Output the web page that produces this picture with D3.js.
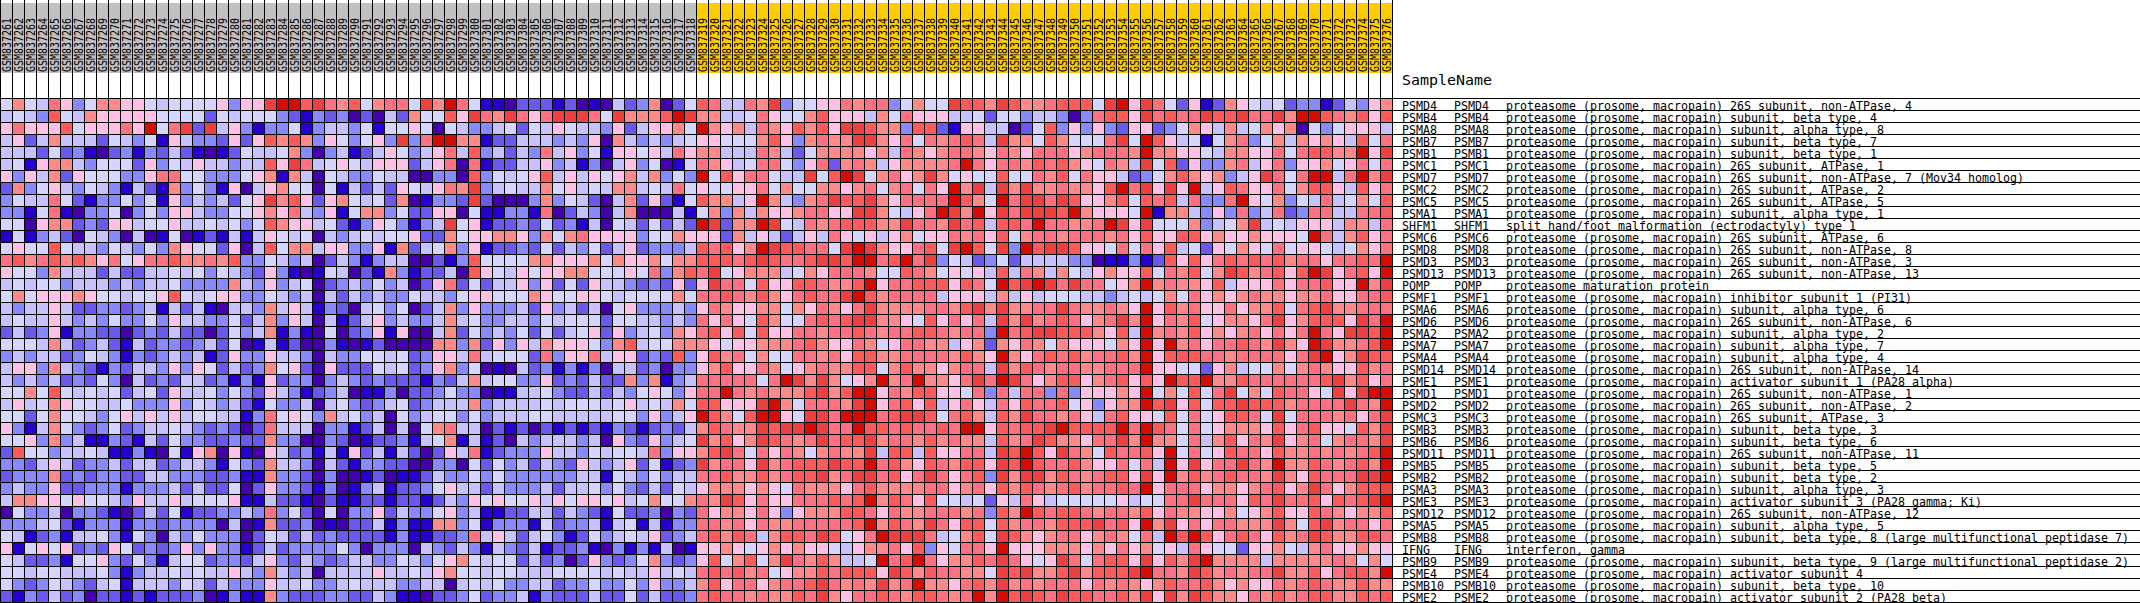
<!DOCTYPE html>
<html>
<head>
<meta charset="utf-8">
<script src="https://cdn.jsdelivr.net/npm/d3@7/dist/d3.min.js"></script>
<style>html,body{margin:0;padding:0;background:#fff}svg{display:block}</style>
</head>
<body>
<svg id="chart" width="2140" height="603"></svg>
<script>
const samples = ["GSM837261","GSM837262","GSM837263","GSM837264","GSM837265","GSM837266","GSM837267","GSM837268","GSM837269","GSM837270","GSM837271","GSM837272","GSM837273","GSM837274","GSM837275","GSM837276","GSM837277","GSM837278","GSM837279","GSM837280","GSM837281","GSM837282","GSM837283","GSM837284","GSM837285","GSM837286","GSM837287","GSM837288","GSM837289","GSM837290","GSM837291","GSM837292","GSM837293","GSM837294","GSM837295","GSM837296","GSM837297","GSM837298","GSM837299","GSM837300","GSM837301","GSM837302","GSM837303","GSM837304","GSM837305","GSM837306","GSM837307","GSM837308","GSM837309","GSM837310","GSM837311","GSM837312","GSM837313","GSM837314","GSM837315","GSM837316","GSM837317","GSM837318","GSM837319","GSM837320","GSM837321","GSM837322","GSM837323","GSM837324","GSM837325","GSM837326","GSM837327","GSM837328","GSM837329","GSM837330","GSM837331","GSM837332","GSM837333","GSM837334","GSM837335","GSM837336","GSM837337","GSM837338","GSM837339","GSM837340","GSM837341","GSM837342","GSM837343","GSM837344","GSM837345","GSM837346","GSM837347","GSM837348","GSM837349","GSM837350","GSM837351","GSM837352","GSM837353","GSM837354","GSM837355","GSM837356","GSM837357","GSM837358","GSM837359","GSM837360","GSM837361","GSM837362","GSM837363","GSM837364","GSM837365","GSM837366","GSM837367","GSM837368","GSM837369","GSM837370","GSM837371","GSM837372","GSM837373","GSM837374","GSM837375","GSM837376"];
const firstGoldSample = "GSM837319";
const genes = ["PSMD4","PSMB4","PSMA8","PSMB7","PSMB1","PSMC1","PSMD7","PSMC2","PSMC5","PSMA1","SHFM1","PSMC6","PSMD8","PSMD3","PSMD13","POMP","PSMF1","PSMA6","PSMD6","PSMA2","PSMA7","PSMA4","PSMD14","PSME1","PSMD1","PSMD2","PSMC3","PSMB3","PSMB6","PSMD11","PSMB5","PSMB2","PSMA3","PSME3","PSMD12","PSMA5","PSMB8","IFNG","PSMB9","PSME4","PSMB10","PSME2"];
const P = "proteasome (prosome, macropain) ";
const descriptions = [P+"26S subunit, non-ATPase, 4",P+"subunit, beta type, 4",P+"subunit, alpha type, 8",P+"subunit, beta type, 7",P+"subunit, beta type, 1",P+"26S subunit, ATPase, 1",P+"26S subunit, non-ATPase, 7 (Mov34 homolog)",P+"26S subunit, ATPase, 2",P+"26S subunit, ATPase, 5",P+"subunit, alpha type, 1","split hand/foot malformation (ectrodactyly) type 1",P+"26S subunit, ATPase, 6",P+"26S subunit, non-ATPase, 8",P+"26S subunit, non-ATPase, 3",P+"26S subunit, non-ATPase, 13","proteasome maturation protein",P+"inhibitor subunit 1 (PI31)",P+"subunit, alpha type, 6",P+"26S subunit, non-ATPase, 6",P+"subunit, alpha type, 2",P+"subunit, alpha type, 7",P+"subunit, alpha type, 4",P+"26S subunit, non-ATPase, 14",P+"activator subunit 1 (PA28 alpha)",P+"26S subunit, non-ATPase, 1",P+"26S subunit, non-ATPase, 2",P+"26S subunit, ATPase, 3",P+"subunit, beta type, 3",P+"subunit, beta type, 6",P+"26S subunit, non-ATPase, 11",P+"subunit, beta type, 5",P+"subunit, beta type, 2",P+"subunit, alpha type, 3",P+"activator subunit 3 (PA28 gamma; Ki)",P+"26S subunit, non-ATPase, 12",P+"subunit, alpha type, 5",P+"subunit, beta type, 8 (large multifunctional peptidase 7)","interferon, gamma",P+"subunit, beta type, 9 (large multifunctional peptidase 2)",P+"activator subunit 4",P+"subunit, beta type, 10",P+"activator subunit 2 (PA28 beta)"];
const levels = "abcdefghijkl".split("");
const levelColors = ["#4500AD","#2700D1","#6B58EF","#8888FF","#C7C1FF","#D5D5FF","#FFC0E5","#FF8989","#FF7080","#FF5A5A","#EF4040","#D60C00"];
const cellLevels = [
"fhfeigdfhh ggfeffffgd ggklljkihj fhiifkhli fbbacccbca baecdhacfj ieeihkdffg gihiidfhf fkjjhkjhhi jjjfklgkif cgbchgfefc ddbcedgh",
"efedjfehgg gggffffcfe fffdcbdcda caechffjg kihkigikkk ifkhhhjlkh heefigffhj gggehfigg geefcffdee dadijjgkij iikjjkiikh lljihjgj",
"gigggjfggg iglfikckeg dbddfbdeed fbffgfafe ddefcfegfe edgcegghfl hgheihgjhj gkkjhhdjj cbggeeacfj dgdgdcggcd fhgehefhgh afdfggge",
"egceheeecf edfbgeddcg cgjhjhdgfd fgdkdillh hbcceeeded gahededefg gfffhjgdhi hhkkhgifi hijiekhhfj hfffikfljg efbfhidfhe hghgejfi",
"eeecfcdbac dbdcecbabc feefhdadeb cegfdegie jdecediegd fbggfgeigh heeeihecfh hhhgheihg hiihgihgii ighiiihlhh ggfehhggif ijjhhlgk",
"efbghhedff fcgdfegeed eejgkiefgf egggcegia ibcceegdeb daegdfabfi hgefiifdgi chiheghhh hiligiihji jhgfihekfj cgddhiegid gghfgifi",
"gdgehcgfff ddgiiffddd fghbheafed dfeeaadda jdfefgjege gfghehdfdl fjgiifeekf jlkfhighk hfgffjffih jfiggecdfh jhghdegkif illeilhk",
"chdfgedfed becbhdfdbg aeghffafbe cecgfegih kdefeehfge fehhefeifg ffggifhffh hghifhifi glhkekhkhh ihhgjlikgk glegjiggif hjjgejgi",
"dfeeifcbdd fdfbgdedec fgkhjgcghf efchabddc kcaaadhdfe caehcgcbfj hheglhedhi kjjkhgiii iljhflikki kjgghjfjij eiddilgfhd feiefhfj",
"ddbfibaddf adfdggeddf fghgiedgbf hhdfccgga fbbddbiace daehaaaebf hdhehgghii ggkkhfegi lkhlgkikkk jlhgggflbh hedgdideic diieeiij",
"ffaghhcdcg geffgeefef dfjhggefcb dgfdbdekf gbccdcfcdb eafecfcecl kchhlkfeih ijjjhhkii hkijejjili ihhilkgkff fhdefhkefe gggehhei",
"bfbdecafed aeabfabcbe begfefaede feffgcchf gghhgdhfhi ggggdffhgg gchegecege igfgeghfg gihigjfhii hiiihigjgg jjghgghggg fliehjgi",
"fgffjfeedf edfdhgffcg aejfhheggd dgbhcefhd gbccdcfced fcegcdddej ijghlkjjii fklkhggij fkljfkdljk kjggfifigj efcgfhgfif ggfefhgi",
"ijhijhjhgi fgiijhhihj ddfedeaced bdeeaacbd jffffhhggg hfhgghfhhj jjijkjiijk kjllijlik dfecdfceee eddabbdbcj gjgijijijh iigiijil",
"gffdheeece cceefefdfe dcgdbabfea cbhdbccea jgfegfgghh fffgfidhji kfghhhefhg iiihffjih fgfgejeihe hfeghggjfi hjfhkjhijg jlkgijgl",
"efeffdeeed edeefddddh edgdefacde dfdeacgic fceegdgcfc geedcdcgcg kiifjggjji hhjlgiijj jgjifljklk ikiifghlhi hhgjegggig iijgglhk",
"fhfggghgff effgjfefgg ddfedeaece deddfeedf ggfffhgffg gfeffffhfi ijihjhgiji ikljhiiii egggehegef ffeedefefh fighghihhg hhiggiij",
"edeegeccdd cdebecebae edhegebdca efdfacehd gdddecgdec eafgdddedg ihgghhfhgi hgikhhhhi ihjkhkhhii kihhihglgj higgighhjf ijkhhiii",
"efeegededf ddfdgeeddf cehdgeaebc egdeddehe fddeedfeff fcffeededi gigfjhffij ijkkhhgfj gigiekhkhi jighikhlgi hjfghhgikg hjjjgkil",
"cecdgbddcc acdceccacf dehbdbafac dgbgaaehc fdedfcfcef gcgdefdhgi jgjfjggiih iijihiijj ihiidlijkk jjjhgjelhi hjghghigig iligkkjl",
"fffehecdec becddcdecf abebcaadba bcaaaahhd hcgdgehggg fdhjeffhhh gfgghhhijh ggihfgiih heghchgihf hgggfhglgl higiijihkh glkhhijl",
"dedeecdfed bdcdedebcg ddgeedaedd ffefcdgge iefffcidgg ieggcdcjdg jhifhffiih igjjhhiii ihjhglhgij ijhiijhlgj jjiihiiiig iklghkjj",
"eggdhedcbd ceedgdgfce cdhfgcagcc cfefcdghd fabaecdbdb daeecdaddg hjggihfghi hhjjfhjhh ghiiekhjih iihhiiilgg ffcgheffhf hihggjhi",
"ededecdcfd aecdceecdb dbgcddaded cdcccbdce heffddgcdc ecchdhbdei iiiifilkhk hfghlhilh hgikilkigh jjghijgjgl jjlhhjiiii iijkhjgi",
"ffhfjfefef cefcgeefdf dcgedbcdea bbdaccdfd dabbeefdcc ecedfgfdgi ilihihhhjk hjllgihjj ggfidieiid idggghglfh fjfikfhfji igfkgkll",
"egefhgffee fdddgdfede cbfddeaefd cdefcdeee hdeeeefeff fefgefehfj jgggklhfii ihklgijgj egigeigjii jfgdghhljk gjfjjkjjjh iiiikihl",
"ffcfhffedf gegegeffee bdifgfdhef deafdeffd fdeeeffeee eeffdgdegl jhfjllgfkk illlijkkj fijhejhkii higeijggfj fifgjjifkf iiihigik",
"gdbehfdcdf cdeefedcdc acieeeaddb ceaeafhie eacbcacbcb cbdcbcdceh jihhkjkklk iiljjijii jillgjijjk ljjjjlilji fifghhhgjg ijggfjhk",
"ffgdhdebbd cbecfddccd cchddaadca bccdbefhb ebcaedeeed eagdcgdefk hjghkjihik ijjkhiihj hihhejhikj hhgiikhlhh fiehjgihkg hifhiihk",
"cjffdeefeb bdbafbghag bagecdbebg cebecacge ibcdddgeed feffeidggh jkifigihfh ihhkejjej ggiiekjljg kihfjiijgl fifgjiigjh hihihijl",
"ddcegecdde ceecdeedbf dcheedaecb ddccaadda fcfdecedcg edegcfbcdk hiigkhijjj kjjlijhgj ihjjgkjlji ijhggifiel gkgiikihlh hjihijhl",
"cdddhcdcdd cceedddccd bbhddcadaa bcabbcedd fdfdddddde ebfedfdeei ijhhjhijjk hikkijgik igijdkhkkh jihijjgkgl hjhijiihkh gjiiikkl",
"deddgccddd bdddececcf acgddcbdab debccdfge ecedddecee fdfdcecfeg hhhghgfihh hgijhhhhi ighigjhjih ijhiijilgi iighhghijg hkighjjk",
"ehhggfgffe dgeegefffg bbeccbacbb ccbccbced gfgffgegfg gfgefhffhi hkjgiggiii jijlhjigj ffefcgeige fffffgeffi ikiiigjiki ijgjijkl",
"afddeaddcb acecfbccdd edidfcafad dgceddfgd ebbcceeced cbfccdadci ghhgigdghh hjjigihhi iihidjhlji jjihiihjgi hhgghfghjg gjihghhj",
"dddefcbddd bddcddddae abhccdabac cebdbbhhd fbdddbfcdd ebefbebddi ihigihhiii iijlhjihk igjjfjhiih jjjkijglhk gigiihhhkh fjkhiigi",
"febcdbeefd bfdaedfddd acfececdcc ccbdbbccd iegecefdbc fdefegcdei jhjiehjjik jfgilkkki efhjfkjhgh iighihfiel jljgijigjh ikjhhjji",
"gbfgfgcdcg fcdcdgdgdd bcecddddfd adddaedce dbedcebccd badbdbeabg ghgfghghgg feghhigjd gfiiglgggh hhghgighfg eigffcgghf ehigghgg",
"feccdbffgd cfdbeffcdd cegdcedcde eddfedfgh feffcecdac gdcdfhdcdg jfhjfhkihj heeflijli ghhjikigfg kifijjgkgj hklhhhhehh hhhihfhf",
"ffeffeeefd bdeefefeeg edhedeaeee egeefeghf feffeeefff fefeegefei jijhifghhj ijjjgkjhj iihhfkjkhh jkhjjjklii hkjhihiikh hjgijjhl",
"fdcdfedcef beeedfeced ddgeefddef eeeddeeae fefddeecdd fddfdgddeh jgiighiijk ihihkhilh hgijhkhihi iigihihghj iijhghggih ijihhjhh",
"cbdcecdacc bcbcccdabd bbhdcccddc cedbbaccd fcddebdccc eccfceccdi jiihihhjik hgiijihjj ihilhljkji kjjiijhkgk hkjhhgihjh ijjhhjij"
];

const svg = d3.select("#chart");
const x = d3.scaleBand().domain(samples).range([0, 1392]);
const y = d3.scaleBand().domain(genes).range([98, 602]);
const color = d3.scaleOrdinal().domain(levels).range(levelColors);
const goldStart = samples.indexOf(firstGoldSample);

const cells = cellLevels.flatMap((row, r) =>
  row.replace(/\s/g, "").split("").map((level, c) => ({gene: genes[r], sample: samples[c], level}))
).filter(d => d.sample);

svg.append("g").selectAll("rect").data(samples).join("rect")
  .attr("x", d => x(d) + 1).attr("y", 3)
  .attr("width", x.bandwidth() - 1).attr("height", 70)
  .attr("fill", (d, i) => i < goldStart ? "#C0C0C0" : "#FFCC00");

svg.append("g").selectAll("rect").data(cells).join("rect")
  .attr("x", d => x(d.sample) + 1).attr("y", d => y(d.gene) + 1)
  .attr("width", x.bandwidth() - 1).attr("height", y.bandwidth() - 1)
  .attr("fill", d => color(d.level));

const grid = svg.append("g").attr("stroke", "#000").attr("stroke-width", 1).attr("shape-rendering", "crispEdges");
grid.selectAll("line.v").data(samples.concat(["end"])).join("line").attr("class", "v")
  .attr("x1", (d, i) => i * x.step() + 0.5).attr("x2", (d, i) => i * x.step() + 0.5)
  .attr("y1", 0).attr("y2", 603);
grid.selectAll("line.h").data(genes.concat(["end"])).join("line").attr("class", "h")
  .attr("x1", 0).attr("x2", 2140)
  .attr("y1", (d, i) => y.range()[0] + i * y.step() + 0.5).attr("y2", (d, i) => y.range()[0] + i * y.step() + 0.5);

const mono = "'DejaVu Sans Mono','Liberation Mono',monospace";
svg.append("g").selectAll("text").data(samples).join("text")
  .attr("transform", d => `translate(${x(d) + 11},72) rotate(-90)`)
  .attr("font-family", mono).attr("font-size", 12)
  .attr("textLength", 54).attr("lengthAdjust", "spacingAndGlyphs")
  .attr("fill", "#000").text(d => d);

svg.append("text").attr("x", 1402).attr("y", 85)
  .attr("font-family", mono).attr("font-size", 14)
  .attr("textLength", 90).attr("lengthAdjust", "spacingAndGlyphs").text("SampleName");

const rowLabels = svg.append("g").attr("font-family", mono).attr("font-size", 11.6).attr("fill", "#000");
const put = (lx, text, g) => rowLabels.append("text")
  .attr("x", lx).attr("y", y(g) + 11.5)
  .attr("textLength", text.length * 7).attr("lengthAdjust", "spacingAndGlyphs").text(text);
genes.forEach((g, i) => { put(1402, g, g); put(1454, g, g); put(1506, descriptions[i], g); });

const bad = cellLevels.map((r, i) => [i, r.replace(/\s/g, "").length]).filter(d => d[1] !== samples.length);
if (bad.length) throw new Error("row lengths: " + JSON.stringify(bad));
</script>
</body>
</html>
